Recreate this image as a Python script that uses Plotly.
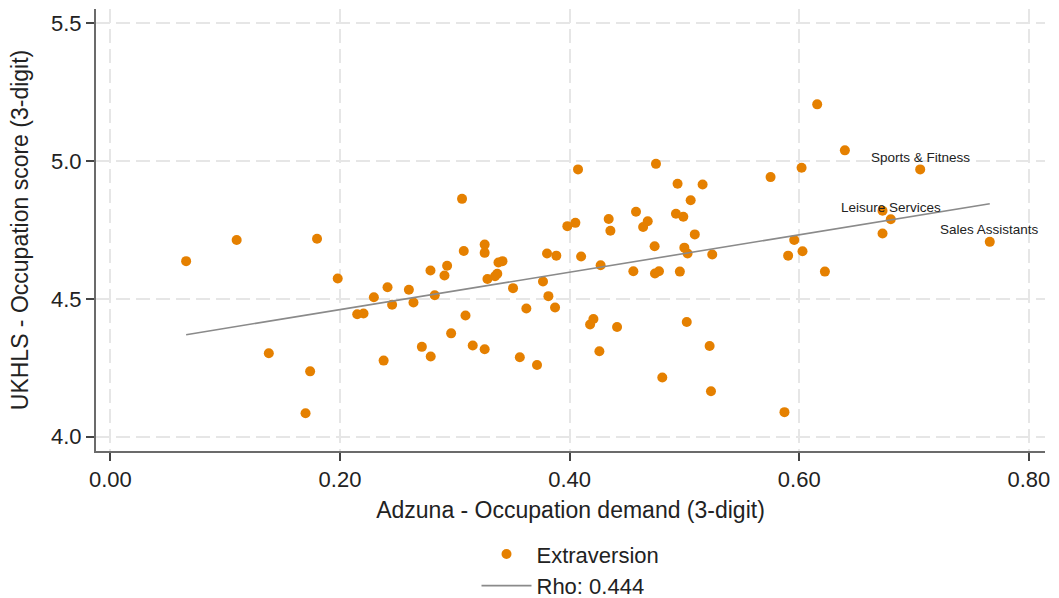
import numpy as np
import plotly.graph_objects as go

# Adzuna occupation demand (x) vs UKHLS occupation score (y), Extraversion
demand = [0.066, 0.110, 0.180, 0.198, 0.215, 0.2205, 0.138, 0.174, 0.170, 0.2295,
          0.2414, 0.2454, 0.238, 0.260, 0.264, 0.2713, 0.2788, 0.279, 0.2825, 0.291,
          0.2933, 0.2968, 0.3063, 0.3078, 0.3093, 0.3156, 0.326, 0.326, 0.326, 0.3284,
          0.335, 0.337, 0.338, 0.3415, 0.3507, 0.3566, 0.3623, 0.3716, 0.3768, 0.3803,
          0.3884, 0.3815, 0.3873, 0.398, 0.405, 0.4073, 0.410, 0.4178, 0.4207, 0.4259,
          0.427, 0.4355, 0.434, 0.4413, 0.4555, 0.4578, 0.464, 0.468, 0.474, 0.4743,
          0.4778, 0.4752, 0.4807, 0.494, 0.4926, 0.499, 0.5054, 0.496, 0.4999, 0.5027,
          0.502, 0.509, 0.5158, 0.575, 0.602, 0.6156, 0.6397, 0.7053, 0.6725, 0.6797,
          0.6725, 0.7659, 0.5956, 0.5242, 0.5903, 0.6028, 0.6223, 0.5219, 0.5231, 0.5871]
score = [4.637, 4.714, 4.718, 4.574, 4.444, 4.447, 4.303, 4.237, 4.085, 4.506,
         4.542, 4.479, 4.276, 4.533, 4.487, 4.326, 4.603, 4.291, 4.513, 4.585,
         4.620, 4.375, 4.863, 4.674, 4.440, 4.331, 4.697, 4.667, 4.317, 4.572,
         4.582, 4.591, 4.632, 4.637, 4.539, 4.288, 4.465, 4.260, 4.563, 4.665,
         4.657, 4.510, 4.469, 4.764, 4.776, 4.970, 4.654, 4.407, 4.427, 4.310,
         4.622, 4.747, 4.790, 4.398, 4.600, 4.816, 4.761, 4.782, 4.691, 4.592,
         4.600, 4.990, 4.215, 4.918, 4.809, 4.798, 4.858, 4.599, 4.686, 4.665,
         4.416, 4.734, 4.915, 4.942, 4.976, 5.206, 5.039, 4.970, 4.820, 4.789,
         4.737, 4.707, 4.714, 4.661, 4.657, 4.673, 4.599, 4.329, 4.165, 4.089]
label_names = {77: "Sports & Fitness", 79: "Leisure Services", 81: "Sales Assistants"}

x_ticks = [0.0, 0.2, 0.4, 0.6, 0.8]
x_tick_labels = ["0.00", "0.20", "0.40", "0.60", "0.80"]
y_ticks = [4.0, 4.5, 5.0, 5.5]
y_tick_labels = ["4.0", "4.5", "5.0", "5.5"]
rho_label = "Rho: 0.444"

FONT = "Liberation Sans, Arial, sans-serif"
ORANGE = "#E58000"
TXT = "#222222"

xa = np.array(demand)
ya = np.array(score)
slope, intercept = np.polyfit(xa, ya, 1)
fx = np.array([xa.min(), xa.max()])
fy = intercept + slope * fx

fig = go.Figure()
fig.add_trace(go.Scatter(x=demand, y=score, mode="markers", name="Extraversion",
                         marker=dict(color=ORANGE, size=10, line=dict(width=0))))
fig.add_trace(go.Scatter(x=fx, y=fy, mode="lines", name=rho_label,
                         line=dict(color="#8a8a8a", width=1.6)))

for i, name in label_names.items():
    fig.add_annotation(x=demand[i], y=score[i], text=name, showarrow=False,
                       xanchor="center", yanchor="middle", yshift=12,
                       font=dict(family=FONT, size=13.5, color=TXT))

axis_common = dict(showline=True, linecolor="#6b6b6b", linewidth=2,
                   ticks="outside", ticklen=8, tickwidth=1.5, tickcolor="#444444",
                   showgrid=True, gridcolor="#e6e6e6", gridwidth=1.5, griddash="14px,6px",
                   zeroline=False, mirror=False,
                   tickfont=dict(family=FONT, size=22, color=TXT))

fig.update_xaxes(range=[-0.0125, 0.814], tickvals=x_ticks, ticktext=x_tick_labels,
                 title=dict(text="Adzuna - Occupation demand (3-digit)",
                            font=dict(family=FONT, size=23, color=TXT), standoff=10),
                 **axis_common)
fig.update_yaxes(range=[3.948, 5.552], tickvals=y_ticks, ticktext=y_tick_labels,
                 title=dict(text="UKHLS - Occupation score (3-digit)",
                            font=dict(family=FONT, size=23, color=TXT), standoff=16),
                 **axis_common)

fig.update_layout(
    width=1059, height=598,
    margin=dict(l=96, r=14, t=9, b=147, autoexpand=False),
    paper_bgcolor="white", plot_bgcolor="white",
    font=dict(family=FONT, color=TXT),
    showlegend=True,
    legend=dict(orientation="v", x=0.5, xanchor="center", y=-0.186, yanchor="top",
                font=dict(family=FONT, size=22, color=TXT), itemwidth=50,
                bgcolor="rgba(0,0,0,0)", tracegroupgap=0),
)

fig.write_html("out.html")
